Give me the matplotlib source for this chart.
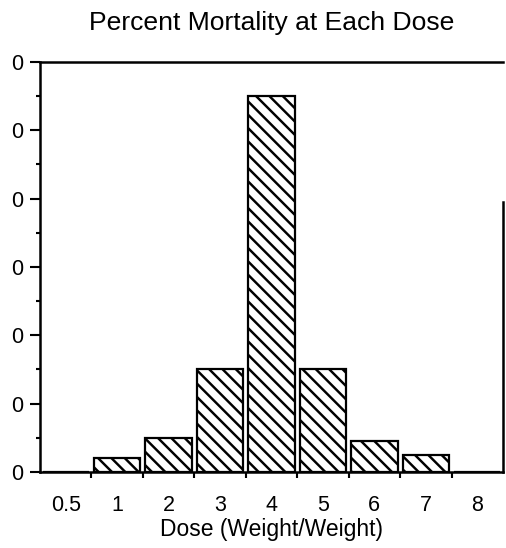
import matplotlib.pyplot as plt
from matplotlib.ticker import MultipleLocator

doses = ['0.5', '1', '2', '3', '4', '5', '6', '7', '8']
mortality = [0, 2, 5, 15, 55, 15, 4.5, 2.5, 0]
ytick_values = [0, 10, 20, 30, 40, 50, 60]
ytick_labels = ['0', '0', '0', '0', '0', '0', '0']

plt.rcParams['font.family'] = ['Liberation Sans', 'DejaVu Sans']
plt.rcParams['hatch.linewidth'] = 2.2

# dpi 80 so the hatch spacing comes out near the scanned original
fig = plt.figure(figsize=(6.325, 6.85), dpi=80)
fig.set_facecolor('white')
ax = fig.add_axes([0.079, 0.1387, 0.915, 0.7482])

pos = list(range(len(doses)))
ax.bar(pos, mortality, width=0.9, color='white', edgecolor='black',
       linewidth=2, hatch='\\\\')

ax.set_xlim(-0.5, len(doses) - 0.5)
ax.set_ylim(0, 60)
ax.set_xticks(pos)
ax.set_xticklabels(doses, fontsize=19.4)
ax.set_xticks([p + 0.5 for p in pos[:-1]], minor=True)
ax.tick_params(axis='x', which='major', length=0, pad=21)
ax.tick_params(axis='x', which='minor', length=5, width=1.9, direction='out')

ax.set_yticks(ytick_values)
ax.set_yticklabels(ytick_labels, fontsize=19.4)
ax.yaxis.set_minor_locator(MultipleLocator(5))
ax.tick_params(axis='y', which='major', length=8.75, width=1.9, pad=6.5)
ax.tick_params(axis='y', which='minor', length=3.75, width=1.9)

for s in ['left', 'bottom', 'top', 'right']:
    ax.spines[s].set_linewidth(2.25)
ax.spines['right'].set_bounds(0, 39.5)

ax.set_title('Percent Mortality at Each Dose', fontsize=23.8, pad=29)
ax.set_xlabel('Dose (Weight/Weight)', fontsize=20.6, labelpad=1.25)

fig.savefig('out.png', dpi=80)
